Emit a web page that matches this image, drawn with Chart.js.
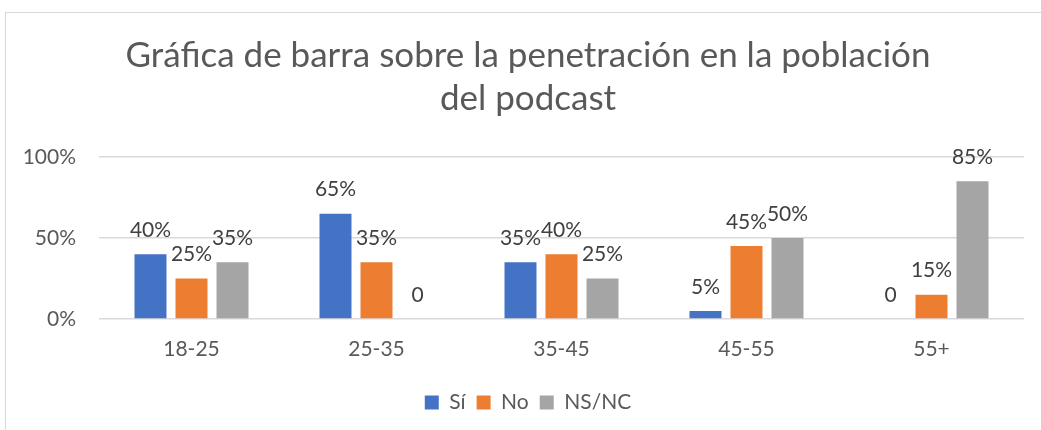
<!DOCTYPE html>
<html>
<head>
<meta charset="utf-8">
<script src="https://cdn.jsdelivr.net/npm/chart.js@4.4.1/dist/chart.umd.min.js"></script>
<style>
  html, body { margin: 0; padding: 0; background: #fff; overflow: hidden; width: 1041px; height: 430px; }
  #frame { position: absolute; left: 5px; top: 12px; width: 1044px; height: 430px; border: 1px solid #d9d9d9; background: #fff; }
  #c { position: absolute; left: 0; top: 0; }
</style>
</head>
<body>
<div id="frame"><canvas id="c" width="1044" height="417"></canvas></div>
<script>
const categories = ['18-25', '25-35', '35-45', '45-55', '55+'];
const seriesNames = ['Sí', 'No', 'NS/NC'];
const si = [40, 65, 35, 5, 0];
const no = [25, 35, 40, 45, 15];
const nsnc = [35, 0, 25, 50, 85];
const yTicks = [0, 50, 100];
const titleLines = ['Gráfica de barra sobre la penetración en la población', 'del podcast'];

const FONT = 'Lato, "Open Sans", sans-serif';

const labelPlugin = {
  id: 'barLabels',
  afterDatasetsDraw(chart) {
    const ctx = chart.ctx;
    ctx.save();
    ctx.font = '21px ' + FONT;
    ctx.fillStyle = '#404040';
    ctx.textAlign = 'center';
    ctx.textBaseline = 'middle';
    chart.data.datasets.forEach((ds, i) => {
      const meta = chart.getDatasetMeta(i);
      meta.data.forEach((bar, j) => {
        const v = ds.data[j];
        const txt = v === 0 ? '0' : v + '%';
        ctx.fillText(txt, bar.x, bar.y - 24);
      });
    });
    ctx.restore();
  }
};

new Chart(document.getElementById('c'), {
  type: 'bar',
  data: {
    labels: categories,
    datasets: [
      { label: seriesNames[0], data: si, backgroundColor: '#4472C4' },
      { label: seriesNames[1], data: no, backgroundColor: '#ED7D31' },
      { label: seriesNames[2], data: nsnc, backgroundColor: '#A5A5A5' }
    ]
  },
  options: {
    responsive: false,
    animation: false,
    devicePixelRatio: 1,
    categoryPercentage: 0.665,
    barPercentage: 0.78,
    layout: { padding: { left: 0, right: 0, top: 0, bottom: 7 } },
    plugins: {
      title: {
        display: true,
        text: titleLines,
        color: '#595959',
        font: { family: FONT, size: 35, weight: 'normal', lineHeight: '43px' },
        padding: { top: 21, bottom: 37 }
      },
      legend: {
        position: 'bottom',
        labels: {
          color: '#595959',
          font: { family: FONT, size: 21 },
          boxWidth: 14,
          boxHeight: 14,
          padding: 11
        }
      },
      tooltip: { enabled: false }
    },
    scales: {
      x: {
        grid: { display: false, drawTicks: false },
        border: { display: false },
        ticks: { color: '#595959', font: { family: FONT, size: 21 }, padding: 18 },
        afterFit(scale) { scale.height = 62; }
      },
      y: {
        min: 0, max: 100,
        grid: { color: '#d9d9d9', lineWidth: 1.5, drawTicks: false },
        border: { display: false },
        afterBuildTicks(scale) { scale.ticks = yTicks.map(v => ({ value: v })); },
        ticks: {
          color: '#595959',
          font: { family: FONT, size: 21 },
          padding: 23,
          callback: v => v + '%'
        },
        afterFit(scale) { scale.width = 93; }
      },
      spacer: {
        type: 'linear',
        position: 'right',
        min: 0, max: 100,
        grid: { display: false, drawTicks: false },
        border: { display: false },
        ticks: { display: false },
        afterFit(scale) { scale.width = 26; }
      }
    }
  },
  plugins: [labelPlugin]
});
</script>
</body>
</html>
